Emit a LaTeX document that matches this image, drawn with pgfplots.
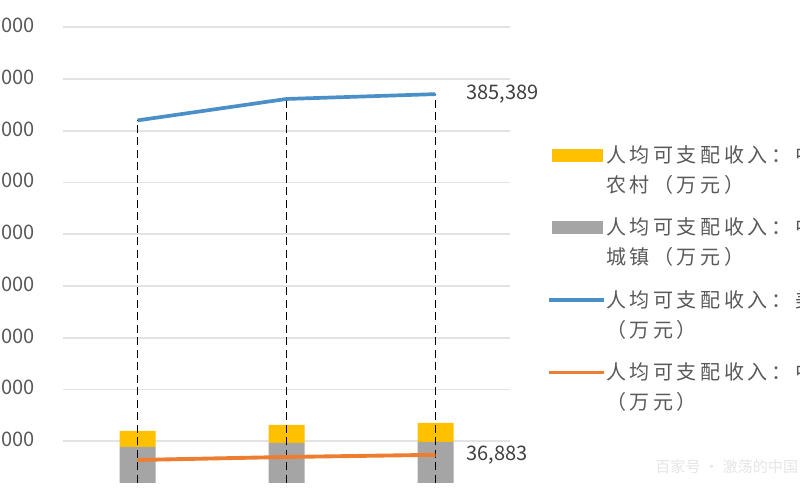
\documentclass[border=0pt]{standalone}
\usepackage{pgfplots}
\pgfplotsset{compat=1.18}
\usepackage{pgfplotstable}
\usepackage{fontspec}
\setmainfont{Noto Sans CJK SC}
\newfontfamily\cjk[LetterSpace=18]{Noto Sans CJK SC}

\definecolor{cYellow}{HTML}{FFC000}
\definecolor{cGray}{HTML}{A5A5A5}
\definecolor{cBlue}{HTML}{4A8FC7}
\definecolor{cOrange}{HTML}{ED7D31}
\definecolor{cGrid}{HTML}{E3E3E3}
\definecolor{cText}{HTML}{595959}
\definecolor{cLabel}{HTML}{404040}

% bars: 中国城镇 / 中国农村 (万元)
\pgfplotstableread{
x chengzhen nongcun
0 3.6 1.6
1 4.0 1.8
2 4.1 1.9
}\bars

% 美国
\pgfplotstableread{
x val lab
0 360000 {}
1 380700 {}
2 385389 385,389
}\usline

% 中国
\pgfplotstableread{
x val lab
0 31900 {}
1 34800 {}
2 36883 36,883
}\cnline

\pgfplotsset{
  base/.style={at={(1.26cm,0.34cm)}, anchor=south west, scale only axis,
    width=8.94cm, height=9.66cm, xmin=-0.5, xmax=2.5},
}

\begin{document}
\begin{tikzpicture}[font=\fontsize{11.4pt}{13.7pt}\selectfont]
\useasboundingbox (0,0) rectangle (16,10);
\clip (0,0) rectangle (16,10);

% gridlines and y tick labels
\begin{axis}[base, ymin=9662, ymax=476337,
  ytick={50000,100000,150000,200000,250000,300000,350000,400000,450000},
  xtick=\empty, ymajorgrids, grid style={color=cGrid, line width=0.9pt},
  axis line style={draw=none}, major tick length=0pt, scaled y ticks=false,
  yticklabel style={text=cText, anchor=east, inner sep=0pt, xshift=-0.56cm,
    /pgf/number format/.cd, fixed, 1000 sep={,}, assume math mode=true}]
\end{axis}

% stacked bars
\begin{axis}[base, ymin=0, ymax=48.3, hide axis, ybar stacked, bar width=0.72cm]
\addplot[fill=cGray, draw=none] table[x=x, y=chengzhen]{\bars};
\addplot[fill=cYellow, draw=none] table[x=x, y=nongcun]{\bars};
\end{axis}

% lines, drop lines, legend
\begin{axis}[base, ymin=9662, ymax=476337, hide axis,
  legend cell align=left,
  legend style={draw=none, fill=none, at={(1.0828,0.7)}, anchor=north west,
    inner sep=0pt, row sep=0.46cm,
    font=\cjk\fontsize{11.4pt}{17.1pt}\selectfont,
    nodes={inner sep=0pt, text=cText, align=left},
    /tikz/every odd column/.append style={column sep=0cm}}]
\addplot[ycomb, black, line width=1.1pt, dash pattern=on 0.16cm off 0.09cm, forget plot]
  table[x=x, y=val]{\usline};
\addplot[cBlue, line width=2.1pt, forget plot, point meta=explicit symbolic,
  nodes near coords, nodes near coords style={anchor=west, xshift=0.58cm, inner sep=0pt, text=cLabel}]
  table[x=x, y=val, meta=lab]{\usline};
\addplot[cOrange, line width=2.2pt, forget plot, point meta=explicit symbolic,
  nodes near coords, nodes near coords style={anchor=west, xshift=0.58cm, inner sep=0pt, text=cLabel}]
  table[x=x, y=val, meta=lab]{\cnline};

\addlegendimage{legend image code/.code={\fill[cYellow] (0.06cm,0.18cm) rectangle (1.06cm,0.42cm);}}
\addlegendentry{人均可支配收入：中国\\农村（万元）}
\addlegendimage{legend image code/.code={\fill[cGray] (0.06cm,0.18cm) rectangle (1.06cm,0.42cm);}}
\addlegendentry{人均可支配收入：中国\\城镇（万元）}
\addlegendimage{legend image code/.code={\draw[cBlue, line width=2.1pt] (0cm,0.3cm) -- (1.1cm,0.3cm);}}
\addlegendentry{人均可支配收入：美国\\（万元）}
\addlegendimage{legend image code/.code={\draw[cOrange, line width=2.1pt] (0cm,0.3cm) -- (1.1cm,0.3cm);}}
\addlegendentry{人均可支配收入：中国\\（万元）}
\end{axis}

% faint watermark
\node[anchor=west, text=black!10, inner sep=0pt, font=\fontsize{8.6pt}{10pt}\selectfont]
  at (13.1,0.66) {百家号 · 激荡的中国};
\end{tikzpicture}
\end{document}
